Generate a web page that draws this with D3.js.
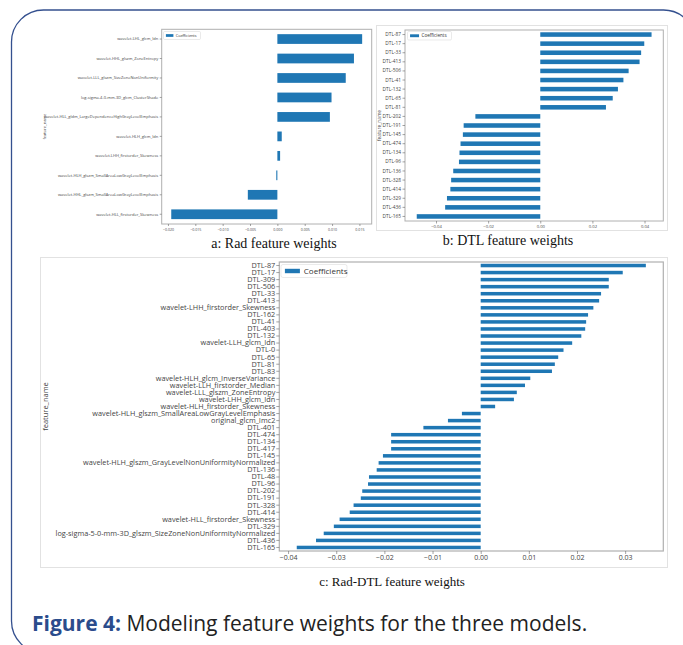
<!DOCTYPE html>
<html>
<head>
<meta charset="utf-8">
<script src="https://cdn.jsdelivr.net/npm/d3@7.9.0/dist/d3.min.js"></script>
<style>
  body { margin: 0; background: #fff; }
  svg { display: block; }
</style>
</head>
<body>
<svg id="fig" width="683" height="645"></svg>
<script>
// a: Rad model coefficients (top to bottom)
const radLabels = [
  'wavelet-LHL_glcm_Idn',
  'wavelet-HHL_glszm_ZoneEntropy',
  'wavelet-LLL_glszm_SizeZoneNonUniformity',
  'log-sigma-4-0-mm-3D_glcm_ClusterShade',
  'wavelet-HLL_gldm_LargeDependenceHighGrayLevelEmphasis',
  'wavelet-HLH_glcm_Idn',
  'wavelet-LHH_firstorder_Skewness',
  'wavelet-HLH_glszm_SmallAreaLowGrayLevelEmphasis',
  'wavelet-HHL_glszm_SmallAreaLowGrayLevelEmphasis',
  'wavelet-HLL_firstorder_Skewness'
];
const radValues = [0.0155, 0.0140, 0.0125, 0.0099, 0.0096, 0.0008, 0.0005, -0.0002, -0.0054, -0.0194];
const radTicks = [-0.020, -0.015, -0.010, -0.005, 0.000, 0.005, 0.010, 0.015];

// b: DTL model coefficients
const dtlLabels = ['DTL-87', 'DTL-17', 'DTL-33', 'DTL-413', 'DTL-506', 'DTL-41', 'DTL-132', 'DTL-65', 'DTL-81',
  'DTL-202', 'DTL-191', 'DTL-145', 'DTL-474', 'DTL-134', 'DTL-96', 'DTL-136', 'DTL-328', 'DTL-414',
  'DTL-329', 'DTL-436', 'DTL-165'];
const dtlValues = [0.0427, 0.0399, 0.0387, 0.0381, 0.0339, 0.0319, 0.0298, 0.0278, 0.0252,
  -0.0249, -0.0294, -0.0297, -0.0306, -0.0310, -0.0312, -0.0334, -0.0342, -0.0345,
  -0.0358, -0.0365, -0.0474];
const dtlTicks = [-0.04, -0.02, 0.00, 0.02, 0.04];

// c: Rad-DTL combined model coefficients
const comboLabels = [
  'DTL-87', 'DTL-17', 'DTL-309', 'DTL-506', 'DTL-33', 'DTL-413',
  'wavelet-LHH_firstorder_Skewness', 'DTL-162', 'DTL-41', 'DTL-403', 'DTL-132',
  'wavelet-LLH_glcm_Idn', 'DTL-0', 'DTL-65', 'DTL-81', 'DTL-83',
  'wavelet-HLH_glcm_InverseVariance', 'wavelet-LLH_firstorder_Median',
  'wavelet-LLL_glszm_ZoneEntropy', 'wavelet-LHH_glcm_Idn', 'wavelet-HLH_firstorder_Skewness',
  'wavelet-HLH_glszm_SmallAreaLowGrayLevelEmphasis', 'original_glcm_Imc2',
  'DTL-401', 'DTL-474', 'DTL-134', 'DTL-417', 'DTL-145',
  'wavelet-HLH_glszm_GrayLevelNonUniformityNormalized',
  'DTL-136', 'DTL-48', 'DTL-96', 'DTL-202', 'DTL-191', 'DTL-328', 'DTL-414',
  'wavelet-HLL_firstorder_Skewness', 'DTL-329',
  'log-sigma-5-0-mm-3D_glszm_SizeZoneNonUniformityNormalized', 'DTL-436', 'DTL-165'
];
const comboValues = [
  0.0343, 0.0295, 0.0266, 0.0266, 0.0250, 0.0246, 0.0234, 0.0223, 0.0219, 0.0217, 0.0209,
  0.0190, 0.0172, 0.0161, 0.0154, 0.0148, 0.0103, 0.0092, 0.0075, 0.0069, 0.0030,
  -0.0039, -0.0068, -0.0119, -0.0186, -0.0186, -0.0186, -0.0203, -0.0212, -0.0216,
  -0.0232, -0.0234, -0.0246, -0.0249, -0.0264, -0.0272, -0.0293, -0.0305, -0.0326,
  -0.0342, -0.0382
];
const comboTicks = [-0.04, -0.03, -0.02, -0.01, 0.00, 0.01, 0.02, 0.03];

const barColor = '#1f77b4';
const svg = d3.select('#fig');

// outer rounded frame of the figure box
svg.append('rect')
  .attr('x', 11.5).attr('y', 10).attr('width', 684).attr('height', 643)
  .attr('rx', 32).attr('fill', 'none')
  .attr('stroke', '#34508f').attr('stroke-width', 1.3);

// light borders round the b and c images
svg.append('rect').attr('x', 376.5).attr('y', 25.5).attr('width', 291).attr('height', 205)
  .attr('fill', 'none').attr('stroke', '#e2e2e2');
svg.append('rect').attr('x', 40.5).attr('y', 257.5).attr('width', 627).attr('height', 310)
  .attr('fill', 'none').attr('stroke', '#e2e2e2');

function drawPanel(p) {
  const g = svg.append('g');
  const lo = d3.min(p.values), hi = d3.max(p.values);
  const pad = (hi - lo) * 0.05; // matplotlib default margin
  const x = d3.scaleLinear().domain([lo - pad, hi + pad]).range([p.left, p.right]);
  const y = d3.scaleBand().domain(p.labels).range([p.top, p.bottom])
    .paddingInner(0.5).paddingOuter(0.25);

  g.selectAll('rect.bar')
    .data(p.values)
    .join('rect')
    .attr('class', 'bar')
    .attr('x', d => x(Math.min(0, d)))
    .attr('width', d => Math.max(0.6, Math.abs(x(d) - x(0))))
    .attr('y', (d, i) => y(p.labels[i]))
    .attr('height', y.bandwidth())
    .attr('fill', barColor);

  // spines
  g.append('rect')
    .attr('x', p.left).attr('y', p.top)
    .attr('width', p.right - p.left).attr('height', p.bottom - p.top)
    .attr('fill', 'none').attr('stroke', '#b0b0b0').attr('stroke-width', p.spine);

  const xAxis = g.append('g')
    .attr('transform', `translate(0,${p.bottom})`)
    .call(d3.axisBottom(x).tickValues(p.ticks).tickFormat(d3.format(p.fmt))
      .tickSize(p.tick).tickPadding(p.xPad));
  const yAxis = g.append('g')
    .attr('transform', `translate(${p.left},0)`)
    .call(d3.axisLeft(y).tickSize(p.tick).tickPadding(p.yPad));

  [xAxis, yAxis].forEach(ax => {
    ax.select('.domain').remove();
    ax.selectAll('line').attr('stroke', '#666').attr('stroke-width', 0.6);
    ax.selectAll('text').attr('fill', '#444').attr('font-family', 'Open Sans, sans-serif');
  });
  xAxis.selectAll('text').attr('font-size', p.tickFont);
  yAxis.selectAll('text').attr('font-size', p.labelFont);

  // axis title
  g.append('text')
    .attr('transform', `translate(${p.yTitleX},${(p.top + p.bottom) / 2}) rotate(-90)`)
    .attr('text-anchor', 'middle')
    .attr('font-family', 'Open Sans, sans-serif')
    .attr('font-size', p.titleFont)
    .attr('fill', '#444')
    .text('feature_name');

  // legend
  const L = p.legend;
  g.append('rect')
    .attr('x', L.x).attr('y', L.y).attr('width', L.w).attr('height', L.h)
    .attr('rx', L.h * 0.15).attr('fill', '#fff')
    .attr('stroke', '#dcdcdc').attr('stroke-width', 0.6);
  g.append('rect')
    .attr('x', L.x + L.h * 0.3).attr('y', L.y + L.h * 0.33)
    .attr('width', L.sw).attr('height', L.h * 0.34)
    .attr('fill', barColor);
  g.append('text')
    .attr('x', L.x + L.h * 0.3 + L.sw + L.h * 0.3)
    .attr('y', L.y + L.h / 2)
    .attr('dy', '0.35em')
    .attr('font-family', 'Open Sans, sans-serif')
    .attr('font-size', L.font)
    .attr('fill', '#333')
    .text('Coefficients');

  // caption under the image
  svg.append('text')
    .attr('x', p.cap.x).attr('y', p.cap.y)
    .attr('text-anchor', 'middle')
    .attr('font-family', 'Liberation Serif, Times New Roman, serif')
    .attr('font-size', p.cap.size)
    .attr('fill', '#111')
    .text(p.cap.text);
}

drawPanel({
  labels: radLabels, values: radValues, ticks: radTicks, fmt: '.3f',
  left: 161.7, top: 29.3, right: 371.7, bottom: 224,
  tick: 2, xPad: 2, yPad: 1.5, tickFont: 3.6, labelFont: 4, titleFont: 4, spine: 1,
  yTitleX: 46,
  legend: { x: 163.5, y: 31.5, w: 37, h: 8, sw: 7.5, font: 3.8 },
  cap: { x: 274, y: 247.5, size: 14, text: 'a: Rad feature weights' }
});

drawPanel({
  labels: dtlLabels, values: dtlValues, ticks: dtlTicks, fmt: '.2f',
  left: 405, top: 30, right: 663.3, bottom: 221,
  tick: 2.5, xPad: 1.5, yPad: 1.5, tickFont: 4.2, labelFont: 4.8, titleFont: 4.8, spine: 1,
  yTitleX: 381,
  legend: { x: 407.5, y: 31.5, w: 44, h: 8.5, sw: 9, font: 4.6 },
  cap: { x: 508, y: 245, size: 14, text: 'b: DTL feature weights' }
});

drawPanel({
  labels: comboLabels, values: comboValues, ticks: comboTicks, fmt: '.2f',
  left: 279.3, top: 262, right: 663.3, bottom: 551,
  tick: 3, xPad: 1, yPad: 1, tickFont: 7, labelFont: 7.3, titleFont: 7.5, spine: 1.2,
  yTitleX: 48,
  legend: { x: 281, y: 264.5, w: 66, h: 13, sw: 15, font: 8 },
  cap: { x: 392, y: 586, size: 13, text: 'c: Rad-DTL feature weights' }
});

// figure caption
const fc = svg.append('text')
  .attr('x', 32).attr('y', 631)
  .attr('font-family', 'Open Sans, sans-serif')
  .attr('font-size', 21);
fc.append('tspan').attr('font-weight', 'bold').attr('fill', '#2b4c8c').text('Figure 4:');
fc.append('tspan').attr('fill', '#222').text(' Modeling feature weights for the three models.');
</script>
</body>
</html>
